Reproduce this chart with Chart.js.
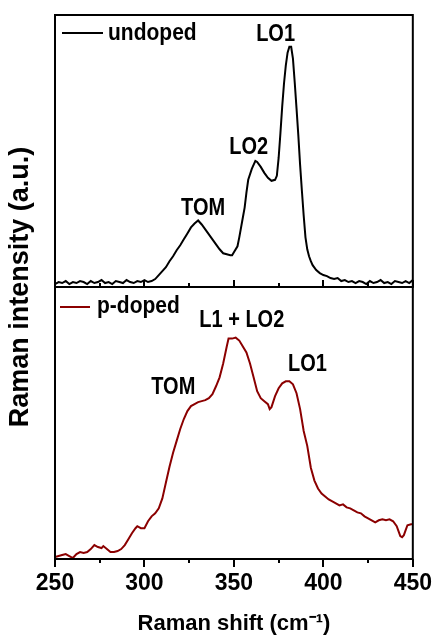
<!DOCTYPE html>
<html>
<head>
<meta charset="utf-8">
<script src="https://cdn.jsdelivr.net/npm/chart.js@4.4.0/dist/chart.umd.min.js"></script>
<style>
  body { margin: 0; background: #fff; }
  canvas { display: block; }
</style>
</head>
<body>
<canvas id="ramanChart" width="435" height="638"></canvas>
<script>
// raman shift (cm-1) and intensity (a.u.)
const shiftUndoped = [250,252,254,256,258,260,262,264,266,268,270,272,274,276,278,280,282,284,286,288,290,292,294,296,298,300,302,304,306,308,310,312,314,316,318,320,322,324,326,328,330,332,334,336,338,340,342,344,346,348,349,350,352,353,355,356,357,358,360,362,363,365,367,369,371,373,374,375,376,377,378,379,380,381,382,383,384,385,386,387,388,389,390,391,392,393,394,396,398,400,402,404,406,408,410,412,414,416,418,420,422,424,426,428,430,432,434,436,438,440,442,444,446,448,450];
const undoped = [3,5,4,6,3,5,4,6,5,3,6,4,5,7,4,5,3,6,5,4,7,5,4,6,5,7,5,6,8,12,16,20,26,31,37,42,48,54,60,64,67,63,58,53,48,43,38,34,33,32,32,35,41,50,70,80,95,108,119,127,126,121,115,110,107,108,112,130,155,182,205,223,236,242,242,230,206,180,153,123,97,72,50,38,31,26,22,17,14,12,11,9,8,9,6,7,5,6,4,6,5,3,6,4,5,7,4,5,3,6,5,4,6,4,7,6];

const shiftDoped = [250,252,254,256,258,260,262,264,266,268,270,272,274,276,277,279,281,283,285,287,289,291,293,295,296,298,300,302,304,306,308,310,312,314,316,318,320,322,324,326,328,330,332,334,336,338,340,342,344,346,347,349,351,353,355,357,359,361,363,365,367,369,370,371,373,375,377,379,381,383,385,387,389,391,393,395,397,399,401,403,405,407,409,411,413,415,417,419,421,423,425,427,429,431,433,435,437,439,441,442,443,444,445,446,447,449,450];
const pDoped = [1,2,3,4,2,0,4,6,5,6,9,13,11,10,12,9,6,6,7,9,13,19,25,30,32,30,30,37,42,45,50,60,76,92,106,118,130,140,148,153,155,157,158,159,161,165,173,182,196,213,221,221,222,219,213,207,196,182,168,161,158,155,150,152,163,171,176,178,178,175,166,150,128,113,91,78,70,65,62,59,57,55,53,54,51,50,48,46,45,42,40,38,36,38,39,38,39,37,32,27,22,21,23,28,33,34,34];

const xTicks = [250, 300, 350, 400, 450];

const peakLabels = [
  { text: 'LO1', x: 373.3, y: 254, axis: 'yTop' },
  { text: 'LO2', x: 358.3, y: 140, axis: 'yTop' },
  { text: 'TOM', x: 332.8, y: 79, axis: 'yTop' },
  { text: 'L1 + LO2', x: 354.4, y: 239, axis: 'yBot' },
  { text: 'LO1', x: 391.1, y: 195, axis: 'yBot' },
  { text: 'TOM', x: 316.1, y: 172, axis: 'yBot' }
];

const FONT = "'Liberation Sans', Arial, sans-serif";
const RED = '#8b0000';

const toPoints = (xs, ys) => xs.map((x, i) => ({ x: x, y: ys[i] }));

// the text in the picture is a bit taller than it is wide
function tallText(c, text, x, y) {
  c.save();
  c.translate(x, y);
  c.scale(1, 1.15);
  c.fillText(text, 0, 0);
  c.restore();
}

// frames, inward/outward ticks, legends, peak labels and y title
const framePlugin = {
  id: 'frames',
  afterDraw(chart) {
    const c = chart.ctx;
    const x = chart.scales.x;
    const top = chart.scales.yTop;
    const bot = chart.scales.yBot;
    c.save();
    c.strokeStyle = '#000';
    c.lineWidth = 2;
    c.strokeRect(x.left, top.top, x.right - x.left, top.bottom - top.top);
    c.strokeRect(x.left, bot.top, x.right - x.left, bot.bottom - bot.top);

    c.beginPath();
    for (let v = 250; v <= 450; v += 25) {
      const px = Math.round(x.getPixelForValue(v));
      const major = v % 50 === 0;
      // top panel: ticks pointing up into the panel
      c.moveTo(px, top.bottom);
      c.lineTo(px, top.bottom - (major ? 7 : 4));
      // bottom axis: ticks pointing down
      c.moveTo(px, bot.bottom);
      c.lineTo(px, bot.bottom + (major ? 8 : 4));
    }
    c.stroke();

    // legends
    c.font = 'bold 21px ' + FONT;
    c.textBaseline = 'middle';
    c.textAlign = 'left';
    c.strokeStyle = '#000';
    c.beginPath();
    c.moveTo(x.left + 7, top.top + 18);
    c.lineTo(x.left + 48, top.top + 18);
    c.stroke();
    c.fillStyle = '#000';
    tallText(c, 'undoped', x.left + 53, top.top + 18);

    c.strokeStyle = RED;
    c.beginPath();
    c.moveTo(x.left + 5, bot.top + 20);
    c.lineTo(x.left + 35, bot.top + 20);
    c.stroke();
    tallText(c, 'p-doped', x.left + 42, bot.top + 19);

    // peak labels
    c.font = 'bold 20px ' + FONT;
    c.textAlign = 'center';
    peakLabels.forEach(l => {
      const s = chart.scales[l.axis];
      tallText(c, l.text, x.getPixelForValue(l.x), s.getPixelForValue(l.y));
    });

    // y title centred on both panels
    c.translate(21, (top.top + bot.bottom) / 2);
    c.rotate(-Math.PI / 2);
    c.font = 'bold 27px ' + FONT;
    c.fillText('Raman intensity (a.u.)', 0, 0);
    c.restore();
  }
};

const ctx = document.getElementById('ramanChart');

new Chart(ctx, {
  type: 'line',
  data: {
    datasets: [{
      label: 'undoped',
      data: toPoints(shiftUndoped, undoped),
      yAxisID: 'yTop',
      borderColor: '#000',
      borderWidth: 2,
      pointRadius: 0,
      tension: 0
    }, {
      label: 'p-doped',
      data: toPoints(shiftDoped, pDoped),
      yAxisID: 'yBot',
      borderColor: RED,
      borderWidth: 2,
      pointRadius: 0,
      tension: 0
    }]
  },
  options: {
    responsive: false,
    animation: false,
    layout: { padding: { left: 47, right: 13, top: 15, bottom: 1 } },
    plugins: { legend: { display: false }, tooltip: { enabled: false } },
    scales: {
      x: {
        type: 'linear',
        min: 250,
        max: 450,
        afterBuildTicks: axis => { axis.ticks = xTicks.map(v => ({ value: v })); },
        grid: { display: false },
        border: { display: false },
        ticks: { color: '#000', padding: 3, font: { family: FONT, size: 23, weight: 'bold' } },
        title: {
          display: true,
          text: 'Raman shift (cm\u207B\u00B9)',
          color: '#000',
          padding: { top: 10, bottom: 0 },
          font: { family: FONT, size: 22, weight: 'bold' }
        }
      },
      yBot: {
        type: 'linear',
        position: 'left',
        stack: 'panels',
        stackWeight: 1,
        min: -1,
        max: 273,
        grid: { display: false },
        border: { display: false },
        ticks: { display: false }
      },
      yTop: {
        type: 'linear',
        position: 'left',
        stack: 'panels',
        stackWeight: 1,
        min: 0,
        max: 274,
        grid: { display: false },
        border: { display: false },
        ticks: { display: false }
      }
    }
  },
  plugins: [framePlugin]
});
</script>
</body>
</html>
